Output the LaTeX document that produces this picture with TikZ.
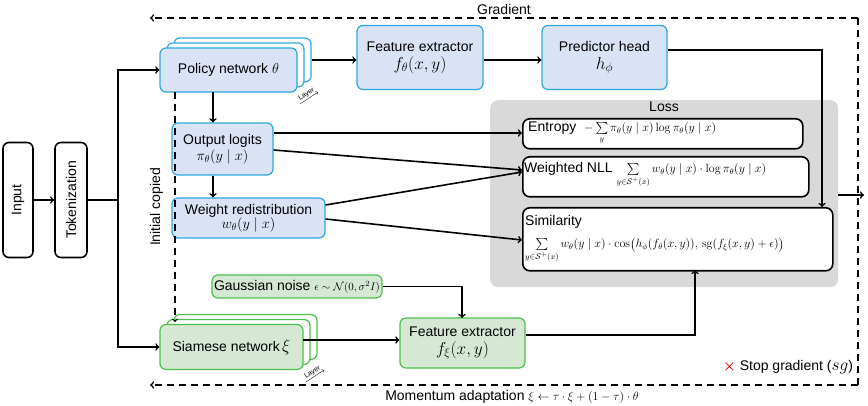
\documentclass[tikz,border=0pt]{standalone}
\usepackage{amsmath,amssymb}
\usepackage[no-math]{fontspec}
\setmainfont{Liberation Sans}
\usetikzlibrary{positioning, arrows, shapes}
\definecolor{blueb}{HTML}{2BA8E0}
\definecolor{bluef}{HTML}{DAE3F6}
\definecolor{greenb}{HTML}{4CBF4C}
\definecolor{greenf}{HTML}{D5E8D4}
\definecolor{lossg}{HTML}{D9D9D9}
\newcommand{\fmath}{\fontsize{12}{14}\selectfont}
\newcommand{\bmath}{\fontsize{18}{20}\selectfont}
\tikzstyle{plain} = [rectangle, rounded corners=6pt, draw=black, line width=1.6pt, fill=white, text centered, inner sep=2pt]
\tikzstyle{blue} = [rectangle, rounded corners=6pt, draw=blueb, line width=1.2pt, fill=bluef, text centered, inner sep=2pt, align=center]
\tikzstyle{green} = [rectangle, rounded corners=6pt, draw=greenb, line width=1.2pt, fill=greenf, text centered, inner sep=2pt, align=center]
\tikzstyle{lossbox} = [rectangle, rounded corners=7pt, draw=black, line width=1.6pt, fill=white, inner sep=3pt, anchor=north west]
\tikzstyle{arrow} = [line width=1.6pt,->,>=to]
\tikzstyle{dasharrow} = [line width=1.6pt,->,>=to, dash pattern=on 7pt off 5pt]

\begin{document}
\begin{tikzpicture}[x=1pt, y=-1pt, font=\fontsize{14}{16}\selectfont]
            \useasboundingbox (0,0) rectangle (868,406);
            % input side
            \node (input) [plain, minimum width=30pt, minimum height=115pt] at (18,200) {\rotatebox{90}{Input}};
            \node (token) [plain, minimum width=32pt, minimum height=115pt] at (71,200) {\rotatebox{90}{Tokenization}};
            \coordinate (split) at (118,200);

            % policy branch
            \node [blue, fill=white, minimum width=137pt, minimum height=44pt] at (242.5,60) {};
            \node [blue, fill=white, minimum width=137pt, minimum height=44pt] at (235.5,65) {};
            \node (policy) [blue, minimum width=137pt, minimum height=44pt] at (228.5,70) {Policy network $\theta$};
            \draw [->, >=to, thin] (300,104) -- node[above, sloped, font=\fontsize{7}{8}\selectfont, inner sep=1pt]{Layer} (318,92);
            \node (featp) [blue, minimum width=126pt, minimum height=64pt] at (420,57.5) {Feature extractor\\[2pt] \bmath$f_\theta(x,y)$};
            \node (head) [blue, minimum width=125pt, minimum height=64pt] at (604.5,57.5) {Predictor head\\[2pt] \bmath$h_\phi$};
            \node (logits) [blue, minimum width=101pt, minimum height=52pt] at (222.5,149) {Output logits\\ $\pi_\theta(y\mid x)$};
            \node (weight) [blue, minimum width=153pt, minimum height=40pt] at (248.5,218) {Weight redistribution\\[-2pt] $w_\theta(y\mid x)$};

            % loss
            \node (loss) [rectangle, rounded corners=8pt, fill=lossg, minimum width=348pt, minimum height=187pt, anchor=north west] at (490,100) {};
            \node at (664,107) {Loss};
            \node (entropy) [lossbox, minimum width=280pt, minimum height=30pt] at (522,118) {};
            \node [right, inner sep=0pt] at (528,133) {Entropy \ \fmath$-\sum\limits_{y}\pi_\theta(y\mid x)\log\pi_\theta(y\mid x)$};
            \node (nll) [lossbox, minimum width=286pt, minimum height=40pt] at (522,156) {};
            \node [right, inner sep=0pt] at (524,175) {Weighted NLL \fmath$\sum\limits_{y\in\mathcal{S}^+(x)} w_\theta(y\mid x)\cdot\log\pi_\theta(y\mid x)$};
            \node (sim) [lossbox, minimum width=310pt, minimum height=63pt] at (522,207) {};
            \node [right, inner sep=0pt] at (525,222) {Similarity};
            \node [right, inner sep=0pt] at (525,250) {\fmath$\sum\limits_{y\in\mathcal{S}^+(x)} w_\theta(y\mid x)\cdot\cos\bigl(h_\phi(f_\theta(x,y)),\,\mathrm{sg}(f_\xi(x,y)+\epsilon)\bigr)$};

            % siamese branch
            \node (noise) [green, minimum width=170pt, minimum height=23pt] at (297,286.5) {Gaussian noise \fontsize{11}{12}\selectfont$\epsilon\sim\mathcal{N}(0,\sigma^2I)$};
            \node [green, fill=white, minimum width=143pt, minimum height=45pt] at (245.5,337) {};
            \node [green, fill=white, minimum width=143pt, minimum height=45pt] at (238.5,342) {};
            \node (siam) [green, minimum width=143pt, minimum height=45pt] at (231.5,347) {Siamese network\,\bmath$\xi$};
            \draw [->, >=to, thin] (306,382) -- node[above, sloped, font=\fontsize{7}{8}\selectfont, inner sep=1pt]{Layer} (324,370);
            \node (feats) [green, minimum width=125pt, minimum height=50pt] at (462.5,343) {Feature extractor\\[2pt] \bmath$f_\xi(x,y)$};

            % connectors
            \draw [arrow] (input) -- (token);
            \draw [line width=1.6pt] (token) -- (split);
            \draw [arrow] (split) |- (policy.west);
            \draw [arrow] (split) |- (siam.west);
            \draw [arrow] (policy.east |- 0,60) ++(14,0) -- (featp.west |- 0,60);
            \draw [arrow] (featp.east |- 0,60) -- (head.west |- 0,60);
            \draw [arrow] (head.east |- 0,50) -| (822,207);
            \draw [arrow] (213,92) -- (logits.north -| 213,0);
            \draw [arrow] (logits.south -| 213,0) -- (weight.north -| 213,0);
            \draw [arrow] (logits.east |- 0,133) -- (entropy.west |- 0,133);
            \draw [arrow] (logits.east |- 0,150) -- (nll.west |- 0,170);
            \draw [arrow] (weight.east |- 0,205) -- (nll.west |- 0,172);
            \draw [arrow] (weight.east |- 0,219) -- (sim.west |- 0,240);
            \draw [dasharrow, line width=1.2pt] (175,92) -- node[pos=0.5, left=8pt, rotate=90, anchor=south]{Initial copied} (175,322);
            \draw [arrow] (noise.east) -| (462,318);
            \draw [arrow] (303,340) -- (feats.west |- 0,340);
            \draw [arrow] (feats.east |- 0,335) -| (695,270);
            \draw [arrow] (838,195) -- (864,195);

            % gradient loops
            \draw [dasharrow] (858,18) -- node[above=-1pt]{Gradient} (150,18);
            \draw [line width=1.6pt, dash pattern=on 7pt off 5pt] (858,18) -- (858,385);
            \draw [dasharrow] (858,385) -- (150,385);
            \node (stopgrad) at (788,367) {{\color{red!85!black}\Large$\boldsymbol{\times}$} Stop gradient (\bmath$sg$\fontsize{14}{16}\selectfont)};
            \node (momentum) at (512,397) {Momentum adaptation \fmath$\xi\leftarrow\tau\cdot\xi+(1-\tau)\cdot\theta$};
\end{tikzpicture}
\end{document}
